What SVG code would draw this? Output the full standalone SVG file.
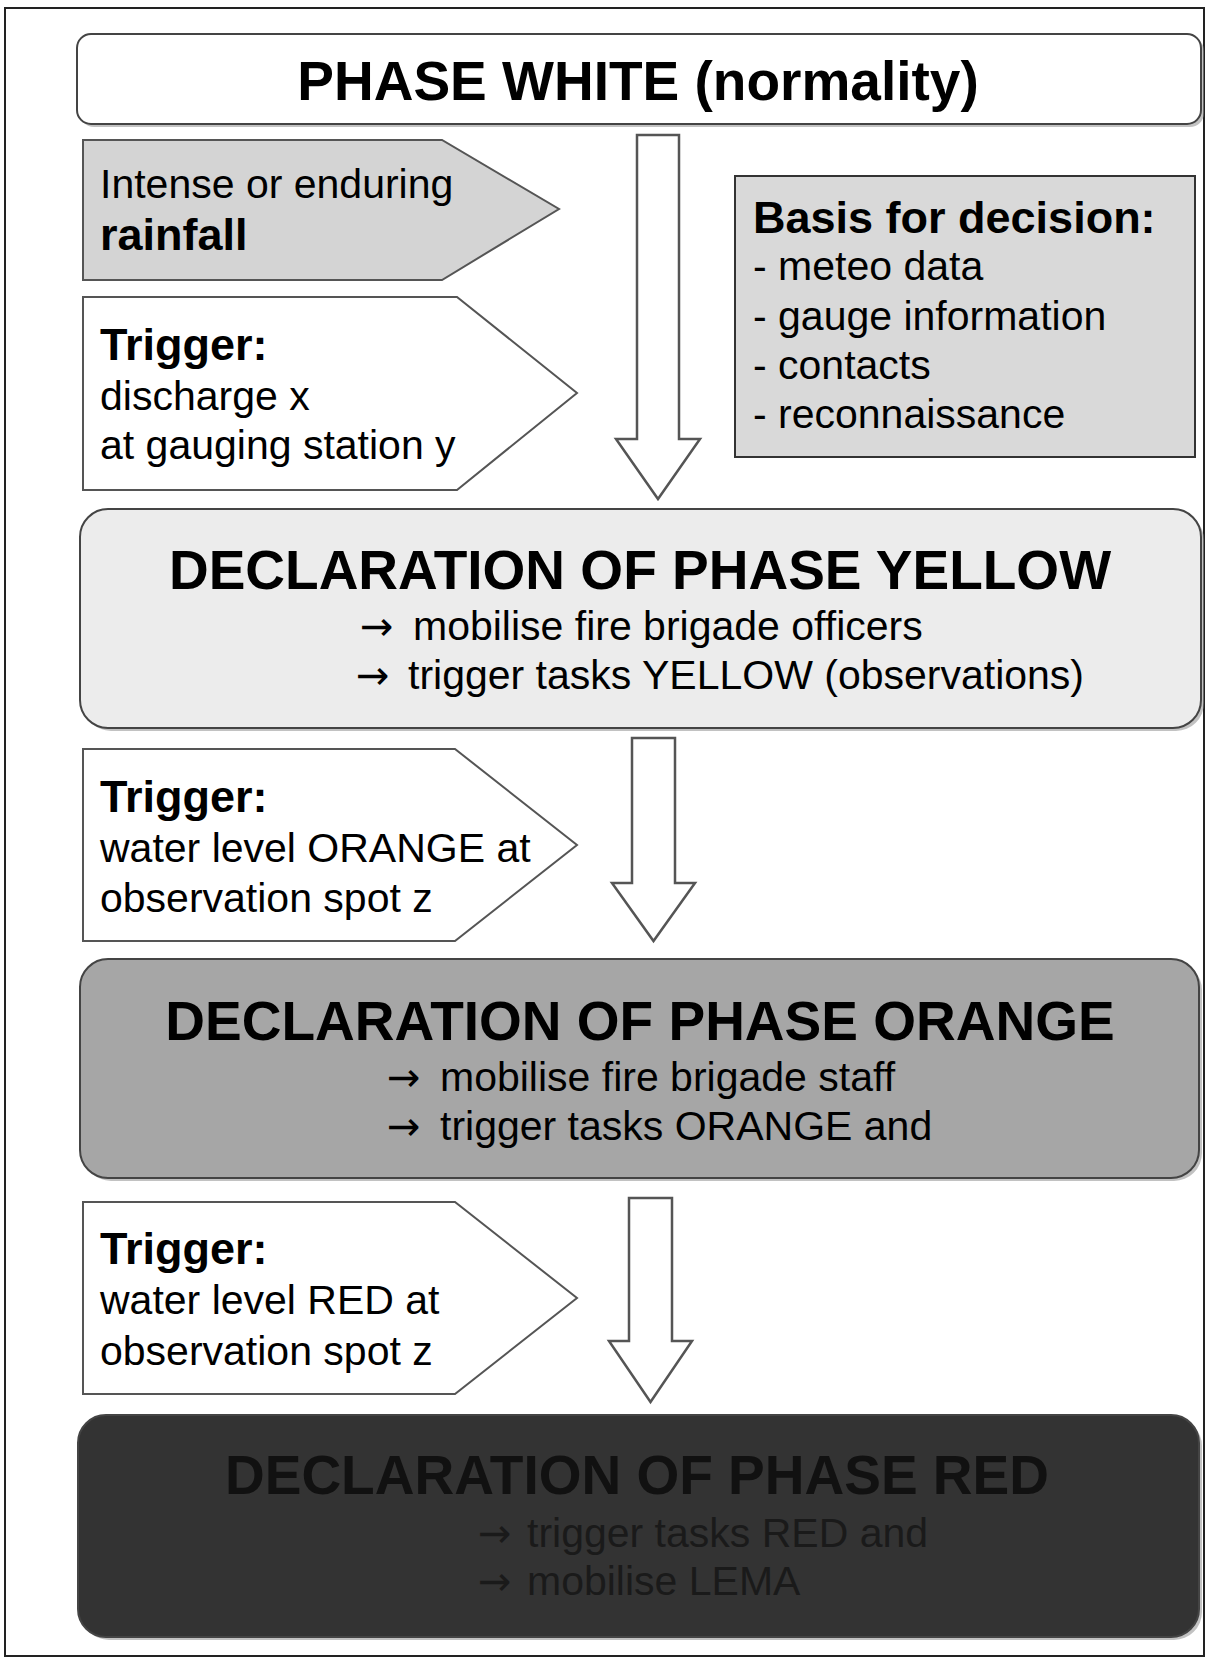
<svg xmlns="http://www.w3.org/2000/svg" width="1208" height="1659" viewBox="0 0 1208 1659">
<defs>
<style>
.t{font-family:"Liberation Sans",Arial,sans-serif;fill:#000}
.title{font-size:55px;font-weight:bold;text-anchor:middle}
.sub{font-size:41px}
.hd{font-size:45px;font-weight:bold}
.ar{font-family:"DejaVu Sans",sans-serif;font-size:40px}
.pent{stroke:#555;stroke-width:2}
.phase{stroke:#444;stroke-width:2}
.shadow{fill:#999;opacity:0.6}
.barrow{fill:#fff;stroke:#555;stroke-width:2.5;stroke-linejoin:miter}
</style>
</defs>
<rect x="0" y="0" width="1208" height="1659" fill="#fff"/>
<rect x="5" y="8" width="1199" height="1648" fill="none" stroke="#222" stroke-width="2"/>

<g id="connectors">
<polygon class="barrow" points="637,135 679,135 679,439 700,439 658,499 616,439 637,439"/>
<polygon class="barrow" points="632,738 675,738 675,883 695,883 653.5,941 612,883 632,883"/>
<polygon class="barrow" points="629,1198 672,1198 672,1341 692,1341 650.5,1402 609,1341 629,1341"/>
</g>

<g id="phase-white">
<rect class="shadow" x="80" y="37" width="1124" height="90" rx="14"/>
<rect class="phase" x="77" y="34" width="1124" height="90" rx="14" fill="#fff"/>
<text class="t title" x="638" y="100">PHASE WHITE (normality)</text>
</g>

<g id="rainfall">
<polygon class="pent" points="83,140 442,140 559,209 442,280 83,280" fill="#d4d4d4"/>
<text class="t sub" x="100" y="198">Intense or enduring</text>
<text class="t hd" x="100" y="250">rainfall</text>
</g>

<g id="trigger-1">
<polygon class="pent" points="83,297 457,297 577,393 457,490 83,490" fill="#fff"/>
<text class="t hd" x="100" y="360">Trigger:</text>
<text class="t sub" x="100" y="410">discharge x</text>
<text class="t sub" x="100" y="459">at gauging station y</text>
</g>

<g id="basis">
<rect x="735" y="176" width="460" height="281" fill="#d9d9d9" stroke="#333" stroke-width="2"/>
<text class="t hd" x="753" y="233">Basis for decision:</text>
<text class="t sub" x="753" y="280">- meteo data</text>
<text class="t sub" x="753" y="330">- gauge information</text>
<text class="t sub" x="753" y="379">- contacts</text>
<text class="t sub" x="753" y="428">- reconnaissance</text>
</g>

<g id="phase-yellow">
<rect class="shadow" x="83" y="512" width="1121" height="219" rx="28"/>
<rect class="phase" x="80" y="509" width="1121" height="219" rx="28" fill="#ececec"/>
<text class="t title" x="640" y="589">DECLARATION OF PHASE YELLOW</text>
<text class="t sub" x="360" y="640"><tspan class="ar">→</tspan><tspan x="413">mobilise fire brigade officers</tspan></text>
<text class="t sub" x="356" y="689"><tspan class="ar">→</tspan><tspan x="408">trigger tasks YELLOW (observations)</tspan></text>
</g>

<g id="trigger-2">
<polygon class="pent" points="83,749 455,749 577,845 455,941 83,941" fill="#fff"/>
<text class="t hd" x="100" y="812">Trigger:</text>
<text class="t sub" x="100" y="862">water level ORANGE at</text>
<text class="t sub" x="100" y="912">observation spot z</text>
</g>

<g id="phase-orange">
<rect class="shadow" x="83" y="962" width="1119" height="219" rx="28"/>
<rect class="phase" x="80" y="959" width="1119" height="219" rx="28" fill="#a6a6a6"/>
<text class="t title" x="640" y="1040">DECLARATION OF PHASE ORANGE</text>
<text class="t sub" x="387" y="1091"><tspan class="ar">→</tspan><tspan x="440">mobilise fire brigade staff</tspan></text>
<text class="t sub" x="387" y="1140"><tspan class="ar">→</tspan><tspan x="440">trigger tasks ORANGE and</tspan></text>
</g>

<g id="trigger-3">
<polygon class="pent" points="83,1202 455,1202 577,1298 455,1394 83,1394" fill="#fff"/>
<text class="t hd" x="100" y="1264">Trigger:</text>
<text class="t sub" x="100" y="1314">water level RED at</text>
<text class="t sub" x="100" y="1365">observation spot z</text>
</g>

<g id="phase-red">
<rect class="shadow" x="81" y="1418" width="1121" height="222" rx="28"/>
<rect class="phase" x="78" y="1415" width="1121" height="222" rx="28" fill="#333"/>
<text class="t title" x="637" y="1494" style="fill:#111">DECLARATION OF PHASE RED</text>
<text class="t sub" x="478" y="1547" style="fill:#1a1a1a"><tspan class="ar">→</tspan><tspan x="527">trigger tasks RED and</tspan></text>
<text class="t sub" x="478" y="1595" style="fill:#1a1a1a"><tspan class="ar">→</tspan><tspan x="527">mobilise LEMA</tspan></text>
</g>
</svg>
